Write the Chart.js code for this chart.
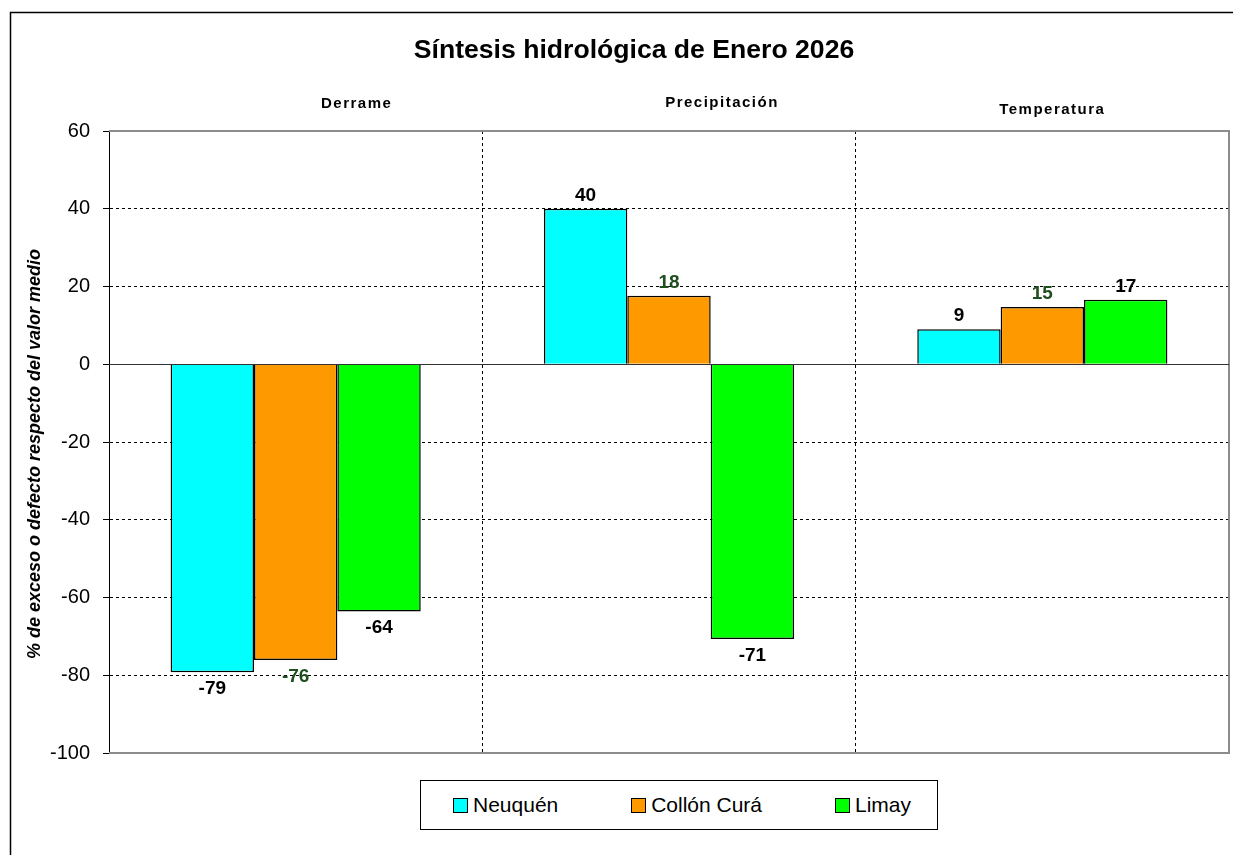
<!DOCTYPE html>
<html>
<head>
<meta charset="utf-8">
<title>Síntesis hidrológica de Enero 2026</title>
<script src="https://cdn.jsdelivr.net/npm/chart.js@4.4.1/dist/chart.umd.min.js"></script>
<style>
    body { margin: 0; background: #fff; }
    #wrap { position: relative; width: 1233px; height: 855px; overflow: hidden; }
    #legend {
        position: absolute; left: 420px; top: 780px; width: 518px; height: 50px;
        box-sizing: border-box; border: 1px solid #000; background: #fff;
        display: flex; align-items: center; justify-content: space-between;
        padding: 0 26px 0 32px;
        font: 21px "Liberation Sans", Arial, sans-serif; color: #000;
    }
    .item { display: flex; align-items: center; white-space: nowrap; }
    .swatch { width: 13px; height: 13px; border: 1px solid #000; margin-right: 5px; }
</style>
</head>
<body>
<div id="wrap">
    <canvas id="hydroChart" width="1233" height="855"></canvas>
    <div id="legend"></div>
</div>
<script>
// Data
const categories = ['Derrame', 'Precipitación', 'Temperatura'];
const seriesNames = ['Neuquén', 'Collón Curá', 'Limay'];
const neuquen = [-79.2, 40, 9];
const collonCura = [-76.1, 17.6, 14.7];
const limay = [-63.6, -70.7, 16.6];
const yTicks = [60, 40, 20, 0, -20, -40, -60, -80, -100];

const seriesColors = ['#00ffff', '#ff9900', '#00ff00'];
const labelColors = ['#000000', '#1f4f1f', '#000000'];
const FONT = '"Liberation Sans", Arial, sans-serif';

// Texts drawn around the plot (title, category headers, y title, frame)
const textPlugin = {
    id: 'texts',
    beforeDraw(chart) {
        const ctx = chart.ctx;
        ctx.save();
        ctx.fillStyle = '#fff';
        ctx.fillRect(0, 0, chart.width, chart.height);
        ctx.strokeStyle = '#000';
        ctx.lineWidth = 1.5;
        ctx.strokeRect(10.5, 12.5, chart.width + 20, chart.height + 20);
        ctx.restore();
    },
    afterDraw(chart) {
        const ctx = chart.ctx;
        const area = chart.chartArea;
        const x = chart.scales.x;
        ctx.save();
        ctx.fillStyle = '#000';
        ctx.textAlign = 'center';
        ctx.textBaseline = 'alphabetic';

        ctx.font = 'bold 26.6px ' + FONT;
        ctx.fillText('Síntesis hidrológica de Enero 2026', 634, 58);

        // category headers sit a little right of each category centre
        const shift = [61, 53, 10];
        const base = [108, 107, 114];
        ctx.font = 'bold 15px ' + FONT;
        ctx.letterSpacing = '1.5px';
        categories.forEach((c, i) => {
            ctx.fillText(c, x.getPixelForValue(i) + shift[i], base[i]);
        });
        ctx.letterSpacing = '0px';

        ctx.translate(35, (area.top + area.bottom) / 2 + 12);
        ctx.rotate(-Math.PI / 2);
        ctx.textBaseline = 'middle';
        ctx.font = 'italic bold 18px ' + FONT;
        ctx.fillText('% de exceso o defecto respecto del valor medio', 0, 0);
        ctx.restore();
    }
};

// Solid zero line and grey plot border
const plotLinesPlugin = {
    id: 'plotLines',
    beforeDatasetsDraw(chart) {
        const ctx = chart.ctx;
        const a = chart.chartArea;
        const y = chart.scales.y;
        ctx.save();
        ctx.strokeStyle = '#8c8c8c';
        ctx.lineWidth = 2;
        ctx.beginPath();
        ctx.moveTo(a.left, y.getPixelForValue(60));
        ctx.lineTo(a.right, y.getPixelForValue(60));
        ctx.lineTo(a.right, y.getPixelForValue(-100));
        ctx.lineTo(a.left, y.getPixelForValue(-100));
        ctx.stroke();
        ctx.restore();
    },
    afterDatasetsDraw(chart) {
        const ctx = chart.ctx;
        const a = chart.chartArea;
        const y = chart.scales.y;
        ctx.save();
        ctx.strokeStyle = '#333';
        ctx.lineWidth = 1;
        const y0 = Math.round(y.getPixelForValue(0)) + 0.5;
        ctx.beginPath();
        ctx.moveTo(a.left, y0);
        ctx.lineTo(a.right, y0);
        ctx.stroke();
        ctx.restore();
    }
};

// Value labels over / under each bar
const valueLabels = {
    id: 'valueLabels',
    afterDatasetsDraw(chart) {
        const ctx = chart.ctx;
        ctx.save();
        ctx.font = 'bold 19px ' + FONT;
        ctx.textAlign = 'center';
        ctx.textBaseline = 'alphabetic';
        chart.data.datasets.forEach((ds, di) => {
            const meta = chart.getDatasetMeta(di);
            ctx.fillStyle = labelColors[di];
            meta.data.forEach((bar, i) => {
                const v = ds.data[i];
                const ty = v >= 0 ? bar.y - 8 : bar.y + 22;
                ctx.fillText(String(Math.round(v)), bar.x, ty);
            });
        });
        ctx.restore();
    }
};

const chart = new Chart(document.getElementById('hydroChart'), {
    type: 'bar',
    data: {
        labels: categories,
        datasets: [neuquen, collonCura, limay].map((d, i) => ({
            label: seriesNames[i],
            data: d,
            backgroundColor: seriesColors[i],
            borderColor: '#000',
            borderWidth: 1.5,
            borderSkipped: 'start',
            barPercentage: 1,
            categoryPercentage: 0.67
        }))
    },
    options: {
        responsive: false,
        animation: false,
        devicePixelRatio: 1,
        layout: { padding: { left: 0, right: 4, top: 131, bottom: 0 } },
        plugins: {
            legend: { display: false },
            title: { display: false },
            tooltip: { enabled: false }
        },
        scales: {
            x: {
                ticks: { display: false },
                grid: {
                    offset: true,
                    drawTicks: false,
                    color: c => (c.index === 1 || c.index === 2) ? '#000' : 'rgba(0,0,0,0)'
                },
                border: { display: false, dash: [3, 3] },
                afterFit: s => { s.height = 102; }
            },
            y: {
                min: -100,
                max: 60,
                afterBuildTicks: s => { s.ticks = yTicks.map(v => ({ value: v })); },
                ticks: {
                    color: '#000',
                    padding: 13,
                    font: { size: 20, family: FONT }
                },
                grid: {
                    color: c => [60, 0, -100].includes(c.tick && c.tick.value) ? 'rgba(0,0,0,0)' : '#000',
                    tickColor: '#000',
                    tickLength: 6
                },
                border: { color: '#000', width: 1, dash: [3, 3] },
                afterFit: s => { s.width = 109; }
            }
        }
    },
    plugins: [textPlugin, plotLinesPlugin, valueLabels]
});

// HTML legend built from the datasets
const legendEl = document.getElementById('legend');
chart.data.datasets.forEach(ds => {
    const item = document.createElement('div');
    item.className = 'item';
    const sw = document.createElement('span');
    sw.className = 'swatch';
    sw.style.background = ds.backgroundColor;
    const txt = document.createElement('span');
    txt.textContent = ds.label;
    item.appendChild(sw);
    item.appendChild(txt);
    legendEl.appendChild(item);
});
</script>
</body>
</html>
